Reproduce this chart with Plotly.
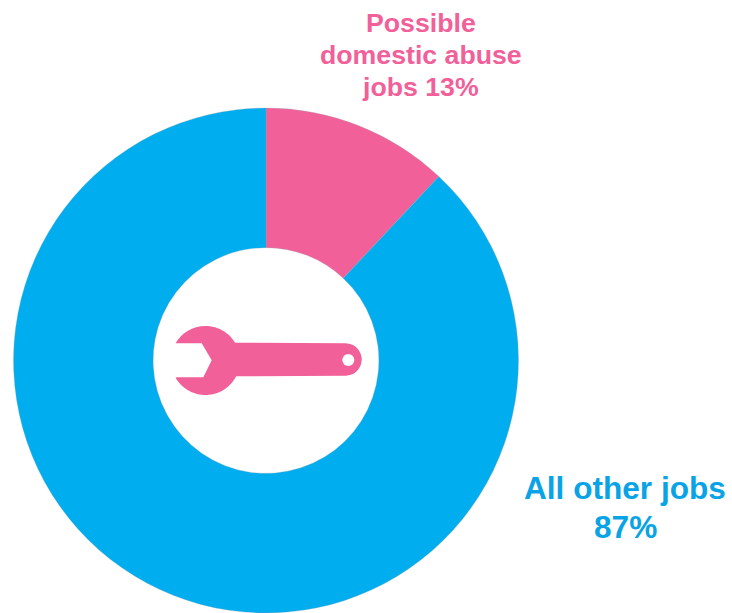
import numpy as np
import plotly.graph_objects as go

W, H = 732, 613
categories = ["Possible domestic abuse jobs", "All other jobs"]
drawn_share = [12, 88]
slice_colors = ["#F2609A", "#00ADEF"]
pink_label_lines = ["Possible", "domestic abuse", "jobs 13%"]
blue_label_lines = ["All other jobs", "87%"]
PINK_TEXT = "#F2609A"
BLUE_TEXT = "#0AA3E6"
FONT = "Liberation Sans"


def px(x):
    return x / W


def py(y):
    return 1 - y / H


def arc(cx, cy, r, a0, a1, n=60):
    t = np.radians(np.linspace(a0, a1, n))
    return [(cx + r * np.cos(v), cy + r * np.sin(v)) for v in t]


def path(points):
    return "M " + " L ".join(f"{px(x):.5f},{py(y):.5f}" for x, y in points) + " Z"


# Wrench icon (decoration, pixel outline)
head = (205.5, 360.5, 34.5)
a_start = np.degrees(np.arctan2(343.3 - 360.5, 175.5 - 205.5))
a_end = np.degrees(np.arctan2(377.3 - 360.5, 176.5 - 205.5))
a_top = np.degrees(np.arctan2(343.3 - 360.5, 234 - 205.5))
a_bot = np.degrees(np.arctan2(375.7 - 360.5, 235 - 205.5))
wrench = []
wrench += [(175.5, 343.3), (201.7, 343.3), (211.7, 360.3), (203.3, 377.3), (176.5, 377.3)]
wrench += arc(*head, a_end, a_bot, 40)
wrench += [(345.5, 375.7)]
wrench += arc(345.5, 359.5, 16.2, 90, -90, 30)
wrench += arc(*head, a_top, a_start if a_start < a_top else a_start - 360, 40)

fig = go.Figure(
    go.Pie(
        labels=categories,
        values=drawn_share,
        hole=0.447,
        sort=False,
        direction="clockwise",
        rotation=0,
        textinfo="none",
        marker=dict(colors=slice_colors, line=dict(color="rgba(150,165,175,0.6)", width=0.5)),
        domain=dict(x=[px(13.5), px(518.5)], y=[0, py(108)]),
        showlegend=False,
    )
)

annotations = []
for line, y in zip(pink_label_lines, [23, 55, 87]):
    annotations.append(dict(x=px(420.5), y=py(y), xref="paper", yref="paper", text=f"<b>{line}</b>",
                            showarrow=False, xanchor="center", yanchor="middle",
                            font=dict(family=FONT, size=26.7, color=PINK_TEXT)))
for line, y in zip(blue_label_lines, [488, 527]):
    annotations.append(dict(x=px(625), y=py(y), xref="paper", yref="paper", text=f"<b>{line}</b>",
                            showarrow=False, xanchor="center", yanchor="middle",
                            font=dict(family=FONT, size=31.6, color=BLUE_TEXT)))

shapes = [
    dict(type="path", xref="paper", yref="paper", path=path(wrench), fillcolor=PINK_TEXT, line=dict(width=0)),
    dict(type="circle", xref="paper", yref="paper", x0=px(342.3), x1=px(354.3), y0=py(366), y1=py(354),
         fillcolor="white", line=dict(width=0)),
]

fig.update_layout(
    width=W, height=H, margin=dict(l=0, r=0, t=0, b=0),
    paper_bgcolor="white", plot_bgcolor="white",
    annotations=annotations, shapes=shapes,
)
fig.write_html("out.html", config={"displayModeBar": False},
               post_script="document.body.style.margin='0';document.body.style.overflow='hidden';")
